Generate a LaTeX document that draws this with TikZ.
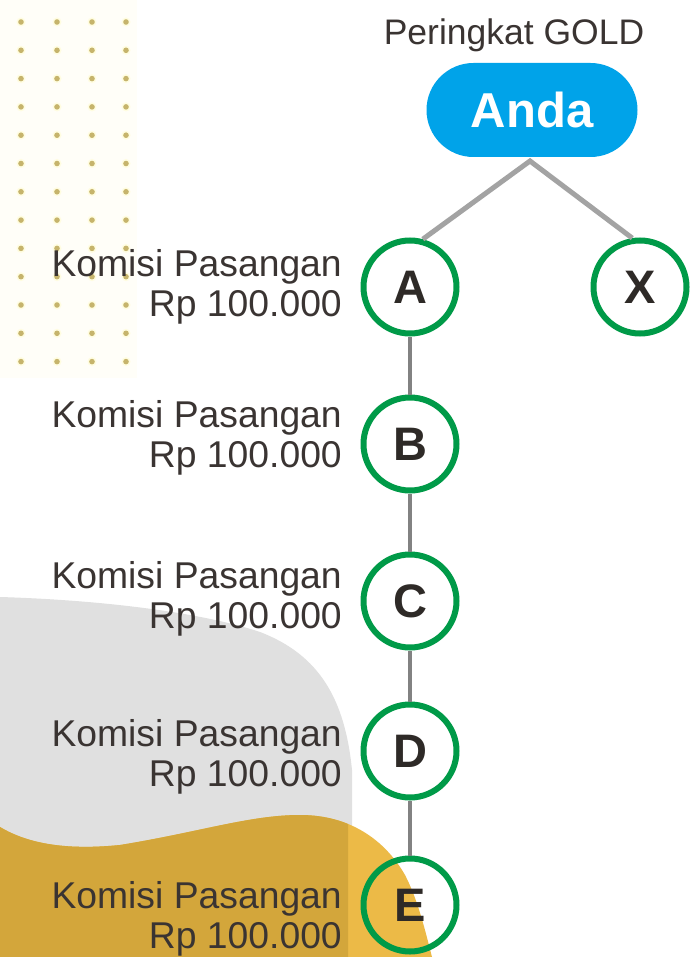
\documentclass[tikz,border=0pt]{standalone}
\usepackage{fontspec}
\setmainfont{Liberation Sans}
\definecolor{andablue}{HTML}{00A3E9}
\definecolor{ringgreen}{HTML}{009A48}
\definecolor{txtdark}{HTML}{3A3432}
\definecolor{letterdark}{HTML}{2E2A27}
\definecolor{linegray}{HTML}{A3A3A3}
\definecolor{vgray}{HTML}{828282}
\definecolor{bggray}{HTML}{E0E0E0}
\definecolor{golddark}{HTML}{D3A63B}
\definecolor{goldlight}{HTML}{ECBA47}
\definecolor{dotcol}{HTML}{C6B46C}
\definecolor{cream}{HTML}{FFFEF8}
\tikzset{
  member/.style={circle, draw=ringgreen, line width=6pt, minimum size=93pt, inner sep=0pt,
    text=letterdark, font=\fontsize{47}{47}\selectfont\bfseries},
  komisi/.style={anchor=base east, align=right, inner sep=0pt, text=txtdark,
    font=\fontsize{37.3}{39.5}\selectfont},
  topline/.style={draw=linegray, line width=5pt},
  chainline/.style={draw=vgray, line width=4pt}
}
\begin{document}
\begin{tikzpicture}[x=1pt,y=-1pt]
\useasboundingbox (0,0) rectangle (689,957);
\fill[white] (0,0) rectangle (689,957);
% dotted pattern
\fill[cream] (0,0) rectangle (137,378);
\foreach \r in {0,...,12}{
  \foreach \c in {21,57,92,126}{
    \fill[yellow!12] (\c,22+28.3*\r) circle (4.5pt);
    \fill[dotcol] (\c,22+28.3*\r) circle (2.8pt);
  }
}
% gray blob
\fill[bggray] (0,597) .. controls (100,600) and (200,612) .. (260,632)
  .. controls (320,655) and (345,700) .. (352,770) -- (352,860) -- (0,860) -- cycle;
% gold wave
\fill[goldlight] (0,827) .. controls (30,845) and (70,850) .. (120,845)
  .. controls (200,832) and (250,815) .. (300,815)
  .. controls (350,815) and (385,840) .. (405,875)
  .. controls (418,900) and (425,930) .. (432,957) -- (0,957) -- cycle;
\begin{scope}
\clip (0,0) rectangle (348,957);
\fill[golddark] (0,827) .. controls (30,845) and (70,850) .. (120,845)
  .. controls (200,832) and (250,815) .. (300,815)
  .. controls (350,815) and (385,840) .. (405,875)
  .. controls (418,900) and (425,930) .. (432,957) -- (0,957) -- cycle;
\end{scope}
% title
\node[anchor=base, inner sep=0pt, text=txtdark, font=\fontsize{35.5}{35.5}\selectfont] (title) at (514,45) {Peringkat GOLD};
\node[fill=andablue, rounded corners=47pt, minimum width=211pt, minimum height=94pt, inner sep=0pt,
  text=white, font=\fontsize{49}{49}\selectfont\bfseries] (anda) at (532,110) {Anda};
% members
\node[member] (A) at (410,287) {A};
\node[member] (X) at (640,287) {X};
\node[member] (B) at (410,444) {B};
\node[member] (C) at (410,601) {C};
\node[member] (D) at (410,751) {D};
\node[member] (E) at (410,905) {E};
% connectors
\coordinate (apex) at (530,161);
\draw[topline] (A.75) -- (apex) -- (X.99);
\draw[chainline] (A) -- (B);
\draw[chainline] (B) -- (C);
\draw[chainline] (C) -- (D);
\draw[chainline] (D) -- (E);
% labels
\node[komisi] (kA) at (342,316) {Komisi Pasangan\\Rp 100.000};
\node[komisi] (kB) at (342,467) {Komisi Pasangan\\Rp 100.000};
\node[komisi] (kC) at (342,628) {Komisi Pasangan\\Rp 100.000};
\node[komisi] (kD) at (342,786) {Komisi Pasangan\\Rp 100.000};
\node[komisi] (kE) at (342,948) {Komisi Pasangan\\Rp 100.000};
\end{tikzpicture}
\end{document}
